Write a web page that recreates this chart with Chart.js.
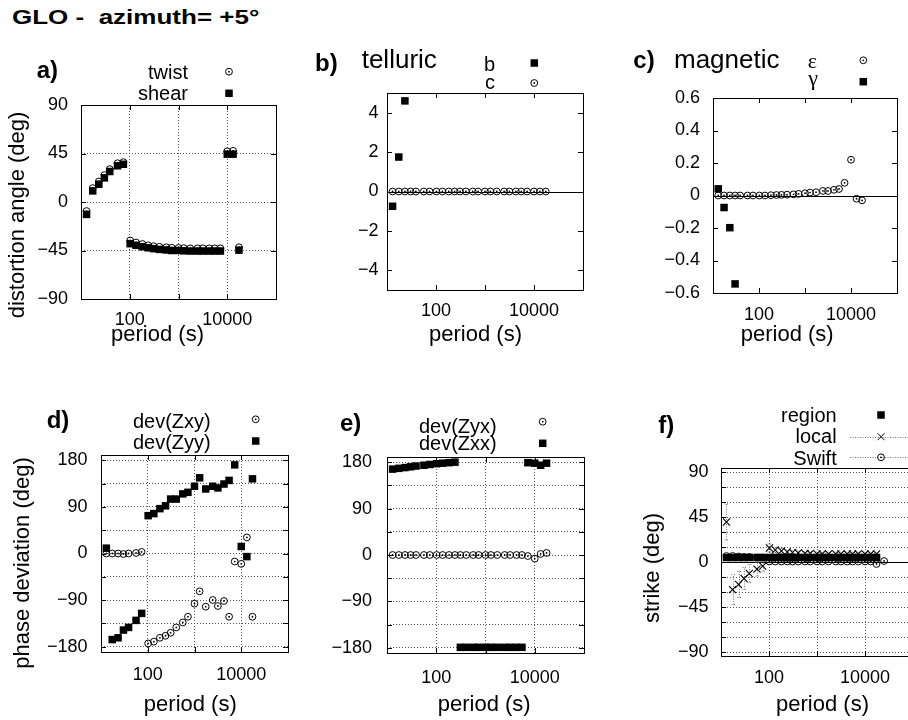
<!DOCTYPE html>
<html><head><meta charset="utf-8">
<script src="https://cdn.jsdelivr.net/npm/chart.js@4/dist/chart.umd.min.js"></script>
<style>
html,body{margin:0;padding:0;background:#fff;}
body{width:908px;height:720px;overflow:hidden;position:relative;font-family:"Liberation Sans",Arial,sans-serif;color:#000;}
canvas{position:absolute;}
.t{position:absolute;white-space:pre;line-height:1;}
</style></head><body>
<script>
// ---------------- DATA ----------------
const periods = [13, 17.4, 23.2, 30.2, 38.9, 56.2, 74.1, 102, 135, 182, 240, 309, 407, 562, 724, 1000, 1288, 1738, 2455, 3162, 4266, 5495, 7244, 10000, 13183, 17378];
const swiftPeriods = [13, 17.4, 23.2, 30.2, 38.9, 56.2, 74.1, 102, 135, 182, 240, 309, 407, 562, 724, 1000, 1288, 1738, 2455, 3162, 4266, 5495, 7244, 10000, 13183, 17378, 25000];

const xTickValues = [10, 100, 1000, 10000, 100000];
const xTickLabels = ['', '100', '', '10000', ''];

// a) distortion angles
const twist = [-8.4, 12.9, 19, 25, 30.5, 36, 37, -35.7, -37.6, -39, -40.2, -41, -41.6, -42, -42.4, -42.6, -42.8, -43, -43, -43, -43, -43, -43, 47, 47.5, -42];
const shear = [-11.5, 10.3, 16.5, 22.4, 28.3, 33.6, 35, -38.7, -40.2, -41.5, -42.5, -43.3, -44, -44.5, -45, -45, -45.3, -45.5, -45.5, -45.5, -45.5, -45.5, -45.5, 44.4, 44.4, -44.7];
const aYTicks = [-90, -45, 0, 45, 90];

// b) telluric
const telB = [-0.75, 1.75, 4.6, null, null, null, null, null, null, null, null, null, null, null, null, null, null, null, null, null, null, null, null, null, null, null];
const telC = [0, 0, 0, 0, 0, 0, 0, 0, 0, 0, 0, 0, 0, 0, 0, 0, 0, 0, 0, 0, 0, 0, 0, 0, 0, 0];
const bYTicks = [-4, -2, 0, 2, 4];

// c) magnetic
const magEps = [0, 0, 0, 0, 0, 0, 0, 0, 0, 0.002, 0.003, 0.004, 0.005, 0.007, 0.01, 0.014, 0.018, 0.02, 0.028, 0.028, 0.035, 0.04, 0.078, 0.22, -0.02, -0.03];
const magGam = [0.041, -0.074, -0.198, -0.544, null, null, null, null, null, null, null, null, null, null, null, null, null, null, null, null, null, null, null, null, null, null];
const cYTicks = [-0.6, -0.4, -0.2, 0, 0.2, 0.4, 0.6];

// d) phase deviation
const devZxy = [0, 0, 0, -1, 0, 1, 3, -173.5, -170, -162.6, -158.7, -153, -142.6, -133, -122, -96.8, -73, -102.6, -89.7, -101.3, -91.6, -122, -15.5, -20, 31, -122];
const devZyy = [10.3, -166, -162.6, -147.7, -142.6, -129, -115.5, 73, 77, 86.5, 92, 105, 105, 115, 118, 129.7, 146, 124.5, 129.7, 126.5, 134, 141, 171, 13.5, -6, 144];
const phaseTicks = [-180, -135, -90, -45, 0, 45, 90, 135, 180];

// e) phase deviation
const devZyx = [0, 0, 0, 0, 0, 0, 0, 0, 0, 0, 0, 0, 0, 0, 0, 0, 0, 0, 0, 0, 0, 0, -2, -7, 2, 4];
const devZxx = [166.5, 168, 169.5, 171, 172.5, 174, 175.5, 177, 178, 179, 180, -179, -179, -179, -179, -179, -179, -179, -179, -179, -179, -179, 179, 178, 174, 178];

// f) strike
const strikeRegion = [4.5, 4.5, 4.5, 4.5, 4.5, 4.5, 4.5, 4.5, 4.5, 4.5, 4.5, 4.5, 4.5, 4.5, 4.5, 4.5, 4.5, 4.5, 4.5, 4.5, 4.5, 4.5, 4.5, 4.5, 4.5, 4.5];
const strikeLocal = [40, -27.6, -22.5, -16.5, -11.5, -7.2, -4.2, 14, 12, 11, 10, 9.5, 9, 8.5, 8.5, 8, 8, 8, 8, 8, 8, 8, 8, 8, 8, 8];
const strikeLocalErr = [18, 15, 13, 11, 9, 7, 5, 4, 3, 3, 2, 2, 2, 2, 2, 2, 2, 2, 2, 2, 2, 2, 2, 2, 2, 2];
const strikeSwift = [6, 6, 5.5, 5, 5, 4.5, 4.5, 0.5, 0.5, 0.5, 0.5, 0.5, 0.5, 0.5, 0.5, 0.5, 0.5, 0.5, 0.5, 0.5, 0.5, 0.5, 0.5, 0.5, 0.5, -2, 1];
const fYTicks = [-90, -75, -60, -45, -30, -15, 0, 15, 30, 45, 60, 75, 90];

// ---------------- HELPERS ----------------
const FONT = '"Liberation Sans", Arial, sans-serif';
const CR = 3.4;   // open circle radius
const SQR = 5.3;  // rect point radius -> ~7.5px side

function pts(xs, ys) {
  const out = [];
  xs.forEach((x, i) => { if (ys[i] !== null && ys[i] !== undefined) out.push({x: x, y: ys[i]}); });
  return out;
}
function fmt(v) { return v < 0 ? '\u2212' + Math.abs(v) : String(v); }

function txt(s, x, y, o) {
  o = o || {};
  const d = document.createElement('div');
  d.className = 't';
  d.textContent = s;
  d.style.left = x + 'px';
  d.style.top = y + 'px';
  d.style.fontSize = (o.size || 20) + 'px';
  if (o.bold) d.style.fontWeight = 'bold';
  if (o.family) d.style.fontFamily = o.family;
  let tx = '0';
  if (o.align === 'right') tx = '-100%';
  if (o.align === 'center') tx = '-50%';
  if (o.rot) d.style.transform = 'translate(-50%,-50%) rotate(-90deg)';
  else {
    d.style.transformOrigin = '0 50%';
    d.style.transform = 'translate(' + tx + ',-50%)' + (o.sx ? ' scaleX(' + o.sx + ')' : '');
  }
  document.body.appendChild(d);
}

function drawCircleMarker(ctx, cx, cy) {
  ctx.save();
  ctx.setLineDash([]);
  ctx.strokeStyle = '#000'; ctx.lineWidth = 1;
  ctx.beginPath(); ctx.arc(cx, cy, CR, 0, Math.PI * 2); ctx.stroke();
  ctx.fillStyle = '#000';
  ctx.beginPath(); ctx.arc(cx, cy, 0.9, 0, Math.PI * 2); ctx.fill();
  ctx.restore();
}

const framePlugin = {
  id: 'frame',
  beforeDatasetsDraw(chart, args, o) {
    const {ctx, chartArea: a, scales} = chart;
    const x = scales.x, y = scales.y;
    ctx.save();
    if (o.zero) {
      const py = Math.round(y.getPixelForValue(0)) + 0.5;
      ctx.strokeStyle = '#000'; ctx.lineWidth = 1; ctx.setLineDash([]);
      ctx.beginPath(); ctx.moveTo(a.left, py); ctx.lineTo(a.right, py); ctx.stroke();
    }
    if (o.errors) {
      ctx.strokeStyle = '#777'; ctx.lineWidth = 1; ctx.setLineDash([1, 1.5]);
      o.errors.xs.forEach((xv, i) => {
        const v = o.errors.ys[i], e = o.errors.es[i];
        if (v === null || !e) return;
        const px = Math.round(x.getPixelForValue(xv)) + 0.5;
        const p1 = y.getPixelForValue(v - e), p2 = y.getPixelForValue(v + e);
        ctx.beginPath(); ctx.moveTo(px, p1); ctx.lineTo(px, p2);
        ctx.moveTo(px - 2, p1); ctx.lineTo(px + 2, p1);
        ctx.moveTo(px - 2, p2); ctx.lineTo(px + 2, p2);
        ctx.stroke();
      });
    }
    ctx.restore();
  },
  afterDraw(chart, args, o) {
    const {ctx, chartArea: a, scales} = chart;
    const x = scales.x, y = scales.y;
    ctx.save();
    ctx.setLineDash([]);
    ctx.strokeStyle = '#000'; ctx.lineWidth = 1;
    const tl = 5;
    ctx.beginPath();
    y.ticks.forEach(t => {
      const py = Math.round(y.getPixelForValue(t.value)) + 0.5;
      ctx.moveTo(a.left, py); ctx.lineTo(a.left + tl, py);
      ctx.moveTo(a.right, py); ctx.lineTo(a.right - tl, py);
    });
    x.ticks.forEach(t => {
      const px = Math.round(x.getPixelForValue(t.value)) + 0.5;
      ctx.moveTo(px, a.bottom); ctx.lineTo(px, a.bottom - tl);
      ctx.moveTo(px, a.top); ctx.lineTo(px, a.top + tl);
    });
    ctx.stroke();
    ctx.strokeRect(Math.round(a.left) + 0.5, Math.round(a.top) + 0.5, Math.round(a.right - a.left), Math.round(a.bottom - a.top));
    (o.legend || []).forEach(m => {
      const cx = m.x - o.ox, cy = m.y - o.oy;
      if (m.line) {
        ctx.save(); ctx.strokeStyle = '#777'; ctx.setLineDash([1, 1.5]);
        ctx.beginPath(); ctx.moveTo(m.line[0] - o.ox, Math.round(cy) + 0.5); ctx.lineTo(m.line[1] - o.ox, Math.round(cy) + 0.5); ctx.stroke();
        ctx.restore();
      }
      if (m.type === 'circle') drawCircleMarker(ctx, cx, cy);
      else if (m.type === 'rect') { ctx.fillStyle = '#000'; ctx.fillRect(cx - 3.75, cy - 3.75, 7.5, 7.5); }
      else if (m.type === 'cross') {
        ctx.beginPath(); ctx.moveTo(cx - 3.5, cy - 3.5); ctx.lineTo(cx + 3.5, cy + 3.5);
        ctx.moveTo(cx - 3.5, cy + 3.5); ctx.lineTo(cx + 3.5, cy - 3.5); ctx.stroke();
      }
    });
    ctx.restore();
  }
};

function panel(cfg) {
  const cv = document.createElement('canvas');
  const c = cfg.canvas, p = cfg.plot;
  cv.width = c.w; cv.height = c.h;
  cv.style.left = c.l + 'px'; cv.style.top = c.t + 'px';
  cv.style.width = c.w + 'px'; cv.style.height = c.h + 'px';
  document.body.appendChild(cv);
  const gridOn = cfg.grid;
  new Chart(cv.getContext('2d'), {
    type: 'scatter',
    data: {datasets: cfg.datasets},
    plugins: [framePlugin],
    options: {
      responsive: false, animation: false, devicePixelRatio: 1,
      layout: {padding: {left: 0, top: p.T - c.t, right: (c.l + c.w) - p.R, bottom: 0}},
      plugins: {
        legend: {display: false}, tooltip: {enabled: false},
        frame: {zero: cfg.zero, errors: cfg.errors, legend: cfg.legend, ox: c.l, oy: c.t}
      },
      scales: {
        x: {
          type: 'logarithmic', min: 10, max: 100000,
          afterFit: s => { s.height = (c.t + c.h) - p.B; },
          afterBuildTicks: s => { s.ticks = xTickValues.map(v => ({value: v})); },
          ticks: {
            autoSkip: false, maxRotation: 0, minRotation: 0, padding: cfg.xpad, color: '#000',
            font: {family: FONT, size: 18},
            callback: (v) => xTickLabels[xTickValues.indexOf(v)] || ''
          },
          grid: {display: gridOn, drawTicks: false, color: '#555', lineWidth: 1},
          border: {display: false, dash: [1, 2]}
        },
        y: {
          type: 'linear', min: cfg.ymin, max: cfg.ymax,
          afterFit: s => { s.width = p.L - c.l; },
          afterBuildTicks: s => { s.ticks = cfg.yTicks.map(v => ({value: v})); },
          ticks: {
            autoSkip: false, padding: cfg.ypad, color: '#000',
            font: {family: FONT, size: 18},
            callback: cfg.yLabel
          },
          grid: {display: gridOn, drawTicks: false, color: '#555', lineWidth: 1},
          border: {display: false, dash: [1, 2]}
        }
      }
    }
  });
}

function sq(data, order) { return {data: data, pointStyle: 'rect', pointRadius: SQR, backgroundColor: '#000', borderColor: '#000', borderWidth: 0, order: order, clip: false}; }
// open circle with a centre dot: ring + dot, both from the same data
function ci(data, order) {
  return [
    {data: data, pointStyle: 'circle', pointRadius: 0.9, backgroundColor: '#000', borderWidth: 0, order: order, clip: false},
    {data: data, pointStyle: 'circle', pointRadius: CR, backgroundColor: 'rgba(0,0,0,0)', borderColor: '#000', borderWidth: 1, order: order + 0.5, clip: false}
  ];
}
function cr(data, order) { return {data: data, pointStyle: 'crossRot', pointRadius: 5, borderColor: '#000', borderWidth: 1.1, backgroundColor: '#000', order: order, clip: false}; }

// ---------------- PANELS ----------------
panel({
  canvas: {l: 0, t: 40, w: 300, h: 320}, plot: {L: 81, T: 105, R: 276, B: 299},
  ymin: -90, ymax: 90, yTicks: aYTicks, yLabel: v => fmt(v), grid: true, zero: false, ypad: 13, xpad: 10,
  datasets: [sq(pts(periods, shear), 0), ...ci(pts(periods, twist), 1)],
  legend: [{type: 'circle', x: 229, y: 71.7}, {type: 'rect', x: 229, y: 93.3}]
});
panel({
  canvas: {l: 300, t: 40, w: 300, h: 320}, plot: {L: 387, T: 93, R: 583, B: 290},
  ymin: -5, ymax: 5, yTicks: bYTicks, yLabel: v => fmt(v), grid: false, zero: true, ypad: 8.5, xpad: 10,
  datasets: [sq(pts(periods, telB), 0), ...ci(pts(periods, telC), 1)],
  legend: [{type: 'rect', x: 534.3, y: 63}, {type: 'circle', x: 534.3, y: 83}]
});
panel({
  canvas: {l: 600, t: 40, w: 308, h: 320}, plot: {L: 713, T: 98, R: 907, B: 293},
  ymin: -0.6, ymax: 0.6, yTicks: cYTicks, yLabel: v => (Math.abs(v) < 1e-9 ? '0' : (v < 0 ? '\u2212' : '') + Math.abs(v).toFixed(1)), grid: false, zero: true, ypad: 13, xpad: 11,
  datasets: [sq(pts(periods, magGam), 0), ...ci(pts(periods, magEps), 1)],
  legend: [{type: 'circle', x: 863.3, y: 60.3}, {type: 'rect', x: 863.3, y: 81.7}]
});
panel({
  canvas: {l: 0, t: 400, w: 300, h: 320}, plot: {L: 101, T: 455, R: 298, B: 652},
  ymin: -190, ymax: 190, yTicks: phaseTicks, yLabel: v => (v % 90 === 0 ? fmt(v) : ''), grid: true, zero: false, ypad: 13.5, xpad: 12,
  datasets: [sq(pts(periods, devZyy), 0), ...ci(pts(periods, devZxy), 1)],
  legend: [{type: 'circle', x: 255.7, y: 419.3}, {type: 'rect', x: 255.7, y: 441}]
});
panel({
  canvas: {l: 300, t: 400, w: 300, h: 320}, plot: {L: 387, T: 457, R: 584, B: 653},
  ymin: -190, ymax: 190, yTicks: phaseTicks, yLabel: v => (v % 90 === 0 ? fmt(v) : ''), grid: true, zero: false, ypad: 15, xpad: 14.5,
  datasets: [sq(pts(periods, devZxx), 0), ...ci(pts(periods, devZyx), 1)],
  legend: [{type: 'circle', x: 542.7, y: 421.7}, {type: 'rect', x: 542.7, y: 443.3}]
});
panel({
  canvas: {l: 600, t: 400, w: 330, h: 320}, plot: {L: 721, T: 468, R: 913, B: 656},
  ymin: -94, ymax: 94, yTicks: fYTicks, yLabel: v => (v % 45 === 0 ? fmt(v) : ''), grid: true, zero: true, ypad: 12.5, xpad: 11.5,
  datasets: [sq(pts(periods, strikeRegion), 0), cr(pts(periods, strikeLocal), 1), ...ci(pts(swiftPeriods, strikeSwift), 2)],
  errors: {xs: periods, ys: strikeLocal, es: strikeLocalErr},
  legend: [{type: 'rect', x: 881, y: 415}, {type: 'cross', x: 881, y: 436.7, line: [850, 912]}, {type: 'circle', x: 881, y: 457.3, line: [850, 912]}]
});

// ---------------- TEXT ----------------
const SERIF = '"Liberation Serif", "DejaVu Serif", serif';
txt('GLO -  azimuth= +5\u00B0', 11.7, 17, {size: 20, bold: true, sx: 1.3});
txt('a)', 36.7, 70, {size: 24, bold: true});
txt('twist', 188, 72, {size: 20, align: 'right'});
txt('shear', 188, 93, {size: 20, align: 'right'});
txt('distortion angle (deg)', 17, 215, {size: 22, rot: true});
txt('period (s)', 157.5, 334, {size: 22, align: 'center'});

txt('b)', 315, 63, {size: 24, bold: true});
txt('telluric', 361.7, 59, {size: 26});
txt('b', 495, 63.5, {size: 20, align: 'right'});
txt('c', 495, 82, {size: 20, align: 'right'});
txt('period (s)', 475.5, 334, {size: 22, align: 'center'});

txt('c)', 633.3, 59.5, {size: 24, bold: true});
txt('magnetic', 674, 59, {size: 26});
txt('\u03B5', 817, 60.6, {size: 22, align: 'right', family: SERIF});
txt('\u03B3', 818, 78.3, {size: 22, align: 'right', family: SERIF});
txt('period (s)', 787.2, 334, {size: 22, align: 'center'});

txt('d)', 46.7, 420, {size: 24, bold: true});
txt('dev(Zxy)', 210.7, 421, {size: 20, align: 'right'});
txt('dev(Zyy)', 210.7, 442, {size: 20, align: 'right'});
txt('phase deviation (deg)', 22, 563.3, {size: 22, rot: true});
txt('period (s)', 190.3, 703.8, {size: 22, align: 'center'});

txt('e)', 340, 423, {size: 24, bold: true});
txt('dev(Zyx)', 496.7, 426, {size: 20, align: 'right'});
txt('dev(Zxx)', 496.7, 443, {size: 20, align: 'right'});
txt('period (s)', 484.2, 703.8, {size: 22, align: 'center'});

txt('f)', 658.3, 425.4, {size: 24, bold: true});
txt('region', 836.7, 414.5, {size: 20, align: 'right'});
txt('local', 836.7, 436, {size: 20, align: 'right'});
txt('Swift', 836.7, 457.8, {size: 20, align: 'right'});
txt('strike (deg)', 652, 567.5, {size: 22, rot: true});
txt('period (s)', 822.5, 703.8, {size: 22, align: 'center'});
</script>
</body></html>
